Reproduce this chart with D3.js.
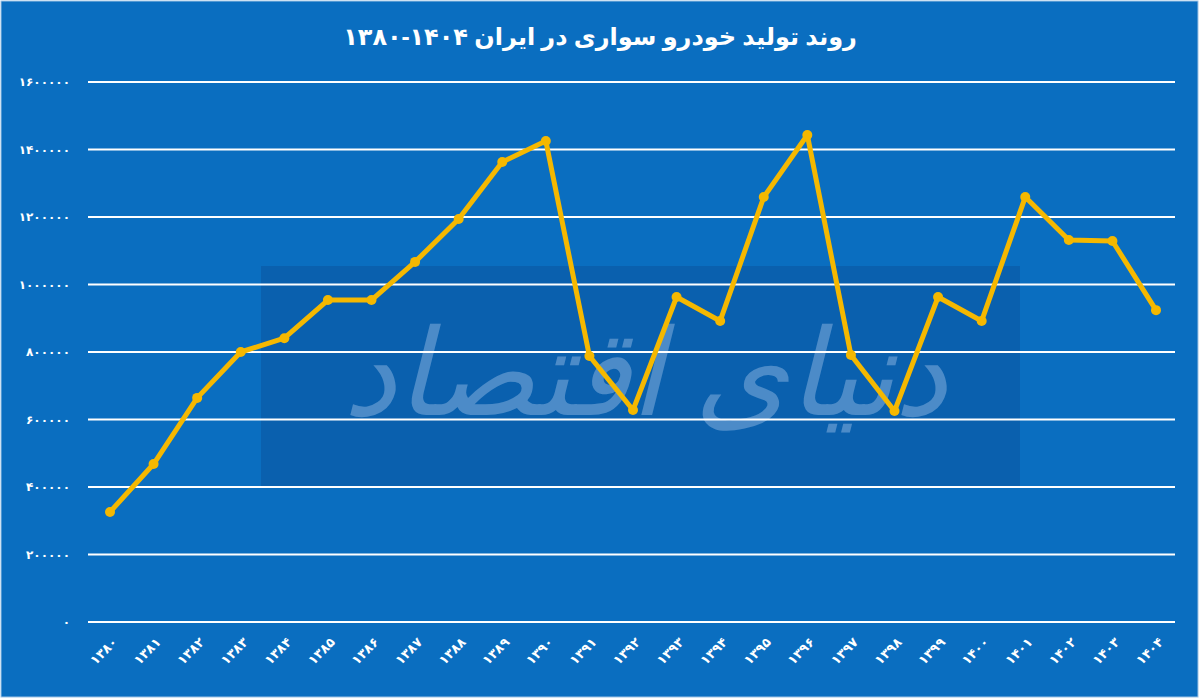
<!DOCTYPE html>
<html><head><meta charset="utf-8">
<script src="https://cdn.jsdelivr.net/npm/d3@7"></script>
<style>body{margin:0;background:#fff}svg{display:block}</style>
</head><body><svg id="c" width="1200" height="699"></svg>
<script>
var years = ['1380','1381','1382','1383','1384','1385','1386','1387','1388','1389','1390','1391','1392','1393','1394','1395','1396','1397','1398','1399','1400','1401','1402','1403','1404'];
var production = [326000,468000,664000,800000,841000,954000,954000,1067000,1194000,1363000,1425000,788000,628000,963000,892000,1259000,1443000,791000,625000,963000,892000,1259000,1132000,1129000,924000];
var yTicks = [0,200000,400000,600000,800000,1000000,1200000,1400000,1600000];

var fa = function(s){ return String(s).replace(/\d/g, function(d){ return '۰۱۲۳۴۵۶۷۸۹'[d]; }); };

var svg = d3.select('#c');
svg.append('rect').attr('x',1).attr('y',1).attr('width',1197).attr('height',696).attr('fill','#0a6ec0').attr('stroke','#9cc3e6');

var x = d3.scalePoint().domain(years).range([110,1156]);
var y = d3.scaleLinear().domain([0,1600000]).range([622,82]);

// watermark
svg.append('rect').attr('x',261).attr('y',266).attr('width',759).attr('height',222).attr('fill','#0a5aa6').attr('opacity',0.7);
svg.append('text').attr('x',645).attr('y',415).attr('text-anchor','middle')
  .attr('font-family','Noto Sans, DejaVu Sans').attr('font-size',120).attr('font-style','italic')
  .attr('fill','#9cc0e8').attr('opacity',0.45).attr('direction','rtl').text('دنیای اقتصاد');

svg.append('g').selectAll('line').data(yTicks).join('line')
  .attr('x1',88).attr('x2',1175).attr('y1',d=>y(d)).attr('y2',d=>y(d))
  .attr('stroke','#fff').attr('stroke-width',2);
svg.append('g').selectAll('text').data(yTicks).join('text')
  .attr('x',70).attr('y',d=>y(d)+4).attr('text-anchor','end')
  .attr('font-family','DejaVu Sans').attr('font-size',12).attr('font-weight','bold').attr('fill','#fff')
  .text(d=>fa(d));

svg.append('g').selectAll('text').data(years).join('text')
  .attr('transform',d=>'translate('+(x(d)+8)+',643) rotate(-45)')
  .attr('text-anchor','end').attr('font-family','DejaVu Sans').attr('font-size',13).attr('font-weight','bold').attr('fill','#fff')
  .text(d=>fa(d));

var line = d3.line().x((d,i)=>x(years[i])).y(d=>y(d));
svg.append('path').datum(production).attr('d',line).attr('fill','none').attr('stroke','#f5b800').attr('stroke-width',5).attr('stroke-linejoin','round');
svg.append('g').selectAll('circle').data(production).join('circle')
  .attr('cx',(d,i)=>x(years[i])).attr('cy',d=>y(d)).attr('r',5).attr('fill','#f5b800');

svg.append('text').attr('x',600).attr('y',45).attr('text-anchor','middle').attr('direction','rtl')
  .attr('font-family','Noto Sans, DejaVu Sans').attr('font-size',24).attr('font-weight','bold').attr('fill','#fff')
  .text('روند تولید خودرو سواری در ایران \u2066۱۳۸۰-۱۴۰۴\u2069');
</script></body></html>
